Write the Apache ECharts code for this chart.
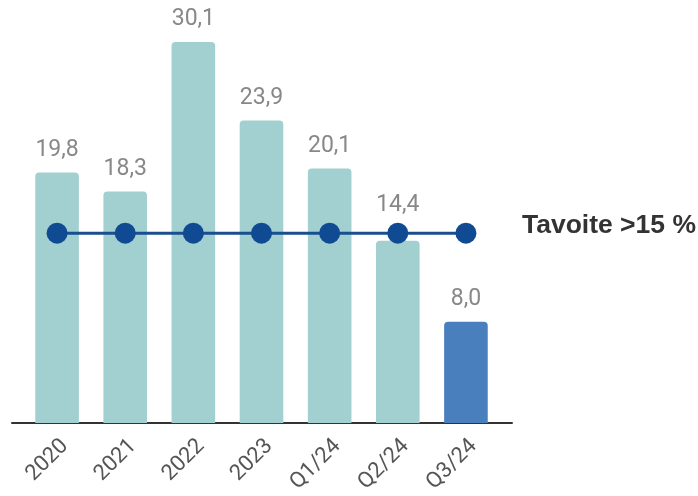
<!DOCTYPE html>
<html><head><meta charset="utf-8">
<script src="https://cdn.jsdelivr.net/npm/echarts@6/dist/echarts.min.js"></script>
<style>html,body{margin:0;padding:0;background:#fff}#c{width:698px;height:496px}</style>
</head><body><div id="c"></div>
<script>
const categories = ['2020','2021','2022','2023','Q1/24','Q2/24','Q3/24'];
const values = [19.8, 18.3, 30.1, 23.9, 20.1, 14.4, 8.0];
const target = [15, 15, 15, 15, 15, 15, 15];
const targetLabel = 'Tavoite >15 %';

const chart = echarts.init(document.getElementById('c'));
chart.setOption({
  animation: false,
  grid: [
    {left: 23, right: 198, top: 18, bottom: 73},
    {left: 12, right: 186, top: 18, bottom: 73}
  ],
  xAxis: [
    {type: 'category', data: categories, gridIndex: 0,
     axisLine: {show: false}, axisTick: {show: false},
     axisLabel: {rotate: 45, margin: 12, fontSize: 22, color: '#555', fontFamily: 'Roboto', verticalAlign: 'top'}},
    {type: 'category', data: categories, gridIndex: 1,
     axisLine: {show: true, lineStyle: {color: '#333', width: 2}},
     axisTick: {show: false}, axisLabel: {show: false}}
  ],
  yAxis: [
    {type: 'value', min: 0, max: 32, gridIndex: 0, show: false, splitLine: {show: false}},
    {type: 'value', min: 0, max: 32, gridIndex: 1, show: false, splitLine: {show: false}}
  ],
  series: [
    {type: 'bar', xAxisIndex: 0, yAxisIndex: 0, barWidth: '64%', z: 2,
     data: values.map((v, i) => ({
       value: v,
       itemStyle: {color: i === values.length - 1 ? '#4a7fbd' : '#a2cfcf', borderRadius: [4,4,0,0]},
       label: (v < 15.5 && v > 13) ? {distance: 24} : undefined
     })),
     label: {show: true, position: 'top', distance: 11, fontSize: 23, color: '#888', fontFamily: 'Roboto',
       formatter: p => p.value.toFixed(1).replace('.', ',')}},
    {type: 'line', xAxisIndex: 0, yAxisIndex: 0, data: target, z: 5,
     lineStyle: {color: '#1a4f8f', width: 3}, itemStyle: {color: '#0f4a93'},
     symbol: 'circle', symbolSize: 21,
     endLabel: {show: true, formatter: targetLabel, distance: 56, offset: [0, -7], fontSize: 26.5, fontWeight: 'bold',
       color: '#333', fontFamily: 'Liberation Sans'}}
  ]
});
</script></body></html>
